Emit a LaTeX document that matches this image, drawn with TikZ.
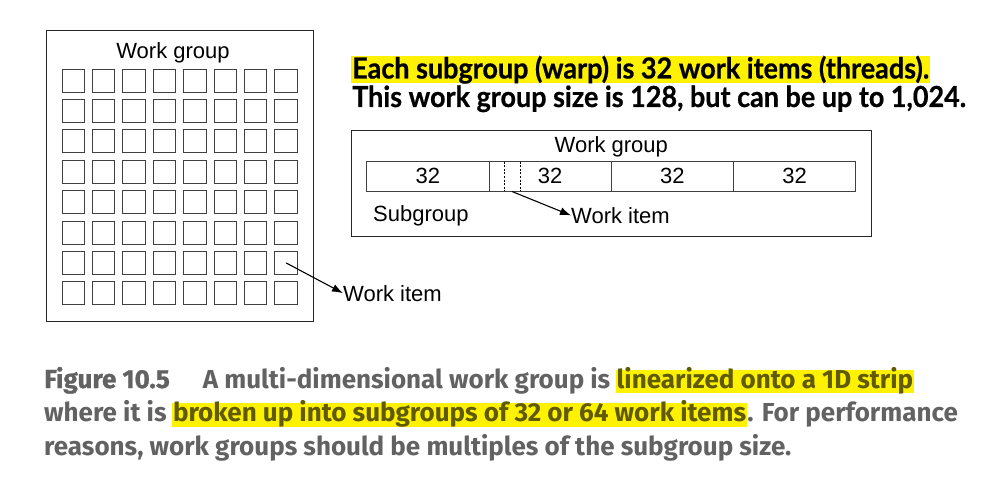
\documentclass[tikz,border=0pt]{standalone}
\usepackage{fontspec}
\setmainfont{Liberation Sans}
\newfontfamily\headfont[FakeStretch=0.93,FakeBold=0.6]{Lato}
\newfontfamily\capfont{Fira Sans}
\usetikzlibrary{arrows.meta,positioning}
\definecolor{hlyellow}{RGB}{255,242,0}
\definecolor{capgray}{RGB}{98,98,98}
\definecolor{capolive}{RGB}{96,90,0}
\tikzset{
  cell/.style={draw=black!75, line width=0.9pt, minimum width=22.5pt, minimum height=23pt, inner sep=0pt},
  seg/.style={draw=black!75, line width=0.8pt, minimum width=122.25pt, minimum height=29.3pt, inner sep=0pt, font=\fontsize{22}{26}\selectfont},
  lbl/.style={font=\fontsize{22}{26}\selectfont, inner sep=0pt},
  pointer/.style={-{Latex[length=11pt,width=8pt]}, line width=1.1pt},
  head/.style={font=\headfont\bfseries\fontsize{29}{34}\selectfont, inner xsep=1pt, inner ysep=0pt, text height=22.8pt, text depth=4.8pt},
  captext/.style={font=\capfont\bfseries\fontsize{26}{30}\selectfont, text=capgray, inner xsep=0pt, inner ysep=0pt, text height=18.5pt, text depth=5pt},
  hl/.style={fill=hlyellow, text=capolive, inner xsep=1pt}
}
\begin{document}
\begin{tikzpicture}[x=1pt,y=-1pt]
\useasboundingbox (0,0) rectangle (1002,492);
% 2D work group
\draw[line width=0.9pt, black!85] (46.7,30) rectangle (313.3,321);
\node[lbl, anchor=base] (T) at (173,58.3) {Work group};
\foreach \i in {0,...,7}
  \foreach \j in {0,...,7}
    \node[cell] (c-\i-\j) at (73.25+30.4*\i, 80.5+30.4*\j) {};
\node[lbl, anchor=base west] (W) at (343,301) {Work item};
\draw[pointer] (c-7-6.center) -- (W.west);
% heading
\node[head, fill=hlyellow, anchor=base west] (H1) at (351,78.5) {Each subgroup (warp) is 32 work items (threads).};
\node[head, anchor=base west] (H2) at (351,107) {This work group size is 128, but can be up to 1,024.};
% 1D strip
\draw[line width=0.9pt, black!85] (351.7,130.7) rectangle (871,236.7);
\node[lbl, anchor=base] (S) at (611.3,153) {Work group};
\foreach \k in {1,...,4}
  \node[seg] (s\k) at (305.6+122.25*\k, 176.4) {32};
\draw[line width=0.8pt, dash pattern=on 2pt off 1.6pt] (504.3,161.7) -- (504.3,191);
\draw[line width=0.8pt, dash pattern=on 2pt off 1.6pt] (520,161.7) -- (520,191);
\coordinate (I) at (512,191.5);
\node[lbl, anchor=base west] (G) at (373,221.7) {Subgroup};
\node[lbl, anchor=base west] (V) at (571,223.3) {Work item};
\draw[pointer] (I) -- (V.west);
% caption
\node[captext, anchor=base west] (F1) at (44,388) {{\addfontfeature{FakeBold=1}Figure 10.5}\hspace{33pt}A multi-dimensional work group is};
\node[captext, hl, anchor=base west] (F1h) at ([xshift=5pt]F1.base east) {linearized onto a 1D strip};
\node[captext, anchor=base west] (F2) at (44,421.7) {where it is};
\node[captext, hl, anchor=base west] (F2h) at ([xshift=5pt]F2.base east) {broken up into subgroups of 32 or 64 work items};
\node[captext, anchor=base west] (F2e) at (F2h.base east) {. For performance};
\node[captext, anchor=base west] (F3) at (44,455.5) {reasons, work groups should be multiples of the subgroup size.};
\end{tikzpicture}
\end{document}
